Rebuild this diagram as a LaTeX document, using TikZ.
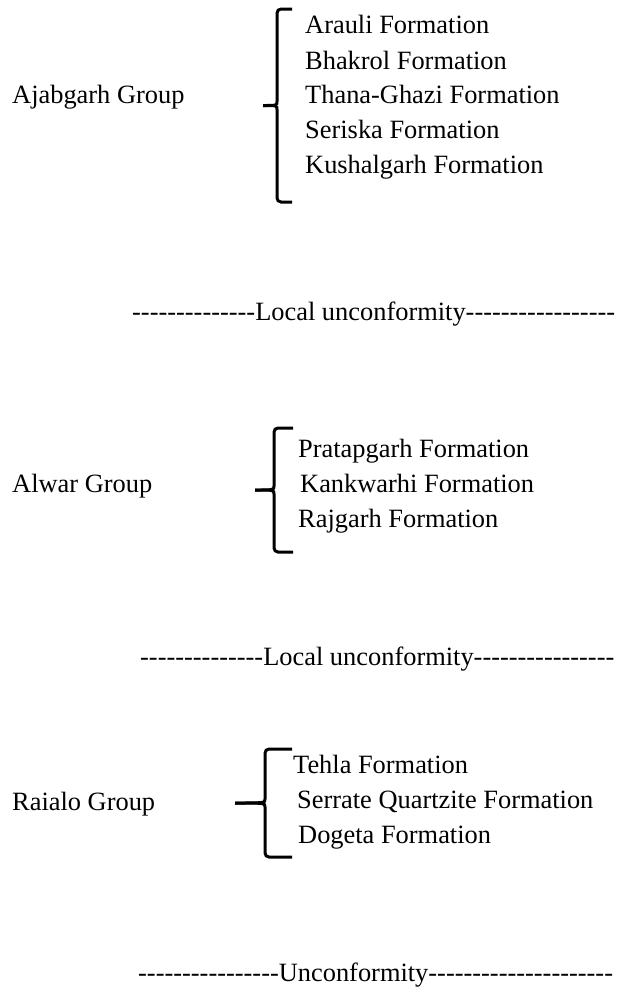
\documentclass[tikz,border=0pt]{standalone}
\usepackage{fontspec}
\setmainfont{Liberation Serif}
\usetikzlibrary{calc}
\newcommand{\Dashes}[1]{\foreach \d in {1,...,#1}{\hbox{-}}}
\newcommand{\GroupBrace}[6]{%
\coordinate (T#1) at (#2,#3);%
\coordinate (B#1) at (#2,#4);%
\coordinate (M#1) at (#2,{(#3+#4)/2});%
\coordinate (TH#1) at (#6,#3);%
\coordinate (BH#1) at (#6,#4);%
\coordinate (Tip#1) at (#5,{(#3+#4)/2});%
\draw[brace] (TH#1) -- (T#1) -- ([yshift=8pt]M#1) .. controls (M#1) .. (Tip#1);%
\draw[brace] (Tip#1) .. controls (M#1) .. ([yshift=-8pt]M#1) -- (B#1) -- (BH#1);%
}

\begin{document}
\begin{tikzpicture}[x=1pt, y=-1pt,
every node/.style={font=\fontsize{26.4}{30}\selectfont},
group/.style={anchor=base west, inner sep=0},
formation/.style={anchor=base west, inner sep=0},
unconf/.style={anchor=base west, inner sep=0},
brace/.style={line width=3pt, rounded corners=4pt},
]
\useasboundingbox (0,0) rectangle (618,989); %%%%%%% SIZE OF THE PAGE

%%%%%%%%%%%%%%%%%%%%%%%% AJABGARH %%%%%%%%%%%%%%%%%%%%%%%%
\node[group] (ajabgarh) at (12,103) {Ajabgarh Group};
\GroupBrace{A}{277}{9}{202}{263}{292}
\node[formation] (arauli) at (305,33) {Arauli Formation};
\node[formation] (bhakrol) at (305,69) {Bhakrol Formation};
\node[formation] (thana) at (305,103) {Thana-Ghazi Formation};
\node[formation] (seriska) at (305,138) {Seriska Formation};
\node[formation] (kushalgarh) at (305,173) {Kushalgarh Formation};

\node[unconf] (local1) at (132,320) {\Dashes{14}Local unconformity\Dashes{17}};

%%%%%%%%%%%%%%%%%%%%%%%% ALWAR %%%%%%%%%%%%%%%%%%%%%%%%
\node[group] (alwar) at (12,492) {Alwar Group};
\GroupBrace{B}{274}{428}{552}{255}{293}
\node[formation] (pratapgarh) at (298,457) {Pratapgarh Formation};
\node[formation] (kankwarhi) at (300,492) {Kankwarhi Formation};
\node[formation] (rajgarh) at (298,527) {Rajgarh Formation};

\node[unconf] (local2) at (140,665) {\Dashes{14}Local unconformity\Dashes{16}};

%%%%%%%%%%%%%%%%%%%%%%%% RAIALO %%%%%%%%%%%%%%%%%%%%%%%%
\node[group] (raialo) at (12,810) {Raialo Group};
\GroupBrace{C}{265}{749}{857}{235}{292}
\node[formation] (tehla) at (293,773) {Tehla Formation};
\node[formation] (serrate) at (297,808) {Serrate Quartzite Formation};
\node[formation] (dogeta) at (298,843) {Dogeta Formation};

\node[unconf] (basal) at (138,981) {\Dashes{16}Unconformity\Dashes{21}};
\end{tikzpicture}
\end{document}
